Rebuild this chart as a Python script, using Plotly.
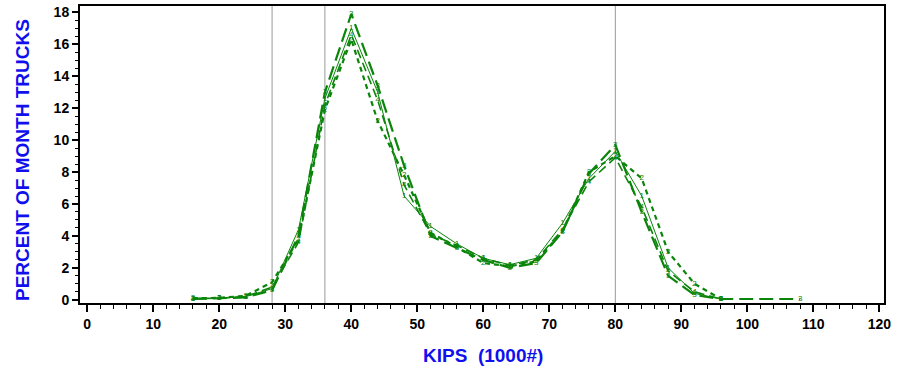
import plotly.graph_objects as go

kips = [16, 20, 24, 28, 32, 36, 40, 44, 48, 52, 56, 60, 64, 68, 72, 76, 80, 84, 88, 92, 96]
kips_long = kips + [108]

series1 = [0.05, 0.1, 0.2, 0.7, 4.4, 12.6, 17.0, 13.0, 6.5, 4.6, 3.5, 2.6, 2.2, 2.6, 4.8, 7.6, 9.3, 6.5, 2.0, 0.4, 0.05]
series2 = [0.1, 0.12, 0.25, 1.1, 3.8, 11.9, 16.3, 11.2, 7.8, 4.2, 3.3, 2.3, 2.1, 2.4, 4.3, 8.0, 9.0, 7.6, 3.0, 1.0, 0.05]
series3 = [0.05, 0.1, 0.15, 0.6, 4.0, 13.0, 17.9, 13.4, 8.4, 4.0, 3.25, 2.5, 2.0, 2.3, 4.25, 7.9, 9.7, 5.5, 1.5, 0.3, 0.05, 0.05]
series4 = [0.08, 0.1, 0.2, 0.8, 3.6, 12.2, 16.6, 12.5, 7.2, 4.1, 3.4, 2.6, 2.15, 2.5, 4.4, 7.4, 8.9, 5.8, 1.8, 0.5, 0.05]

ref_lines = [28, 36, 80]
x_ticks = list(range(0, 121, 10))
y_ticks = list(range(0, 19, 2))

GREEN = "#0a850a"
BLUE = "#1010ee"

specs = [
    (kips, series1, "1", "solid", 1),
    (kips, series2, "2", "5px,4px", 2.2),
    (kips_long, series3, "3", "14px,6px", 2.2),
    (kips, series4, "4", "9px,5px", 1.6),
]

fig = go.Figure()
for xs, ys, lab, dash, w in specs:
    fig.add_trace(go.Scatter(
        x=xs, y=ys, mode="lines+text",
        text=[lab] * len(xs), textposition="middle center",
        textfont=dict(color=GREEN, size=8, family="Liberation Sans"),
        line=dict(color=GREEN, width=w, dash=dash),
        showlegend=False, cliponaxis=False,
    ))

for xv in ref_lines:
    fig.add_shape(type="line", x0=xv, x1=xv, y0=0, y1=1, xref="x", yref="paper",
                  line=dict(color="#999999", width=1), layer="below")

L, R, T, B = 80, 19, 6, 68
W, H = 903, 371
pw = W - L - R
ph = H - T - B

def px(xp):
    return (xp - L) / pw

def py(yp):
    return (H - B - yp) / ph

axis_font = dict(family="Liberation Sans", size=14, color="black")
fig.update_layout(
    width=W, height=H,
    margin=dict(l=L, r=R, t=T, b=B),
    paper_bgcolor="white", plot_bgcolor="white",
    font=dict(family="Liberation Sans"),
    xaxis=dict(
        range=[-1.1, 120.7], tickvals=x_ticks, ticktext=[f"<b>{v}</b>" for v in x_ticks],
        tickfont=axis_font, ticks="outside", ticklen=7, tickwidth=1.5, tickcolor="black",
        minor=dict(ticks="outside", ticklen=4, dtick=2, tickcolor="black", tickwidth=1),
        showline=True, linecolor="black", linewidth=2, mirror=True,
        showgrid=False, zeroline=False, automargin=False,
    ),
    yaxis=dict(
        range=[-0.2, 18.4], tickvals=y_ticks, ticktext=[f"<b>{v}</b>" for v in y_ticks],
        tickfont=axis_font, ticks="outside", ticklen=6, tickwidth=1.5, tickcolor="black",
        minor=dict(ticks="outside", ticklen=3, dtick=0.5, tickcolor="black", tickwidth=1),
        showline=True, linecolor="black", linewidth=2, mirror=True,
        showgrid=False, zeroline=False, automargin=False,
    ),
    annotations=[
        dict(text="<b>KIPS\u00a0\u00a0(1000#)</b>", x=px(483), y=py(355), xref="paper", yref="paper",
             xanchor="center", yanchor="middle", showarrow=False,
             font=dict(family="Liberation Sans", size=19, color=BLUE)),
        dict(text="<b>PERCENT OF MONTH TRUCKS</b>", textangle=-90, x=px(22), y=py(160),
             xref="paper", yref="paper", xanchor="center", yanchor="middle", showarrow=False,
             font=dict(family="Liberation Sans", size=19, color=BLUE)),
    ],
)

fig.write_html("out.html", config={"displayModeBar": False},
               post_script="document.body.style.margin='0';document.body.style.padding='0';")
